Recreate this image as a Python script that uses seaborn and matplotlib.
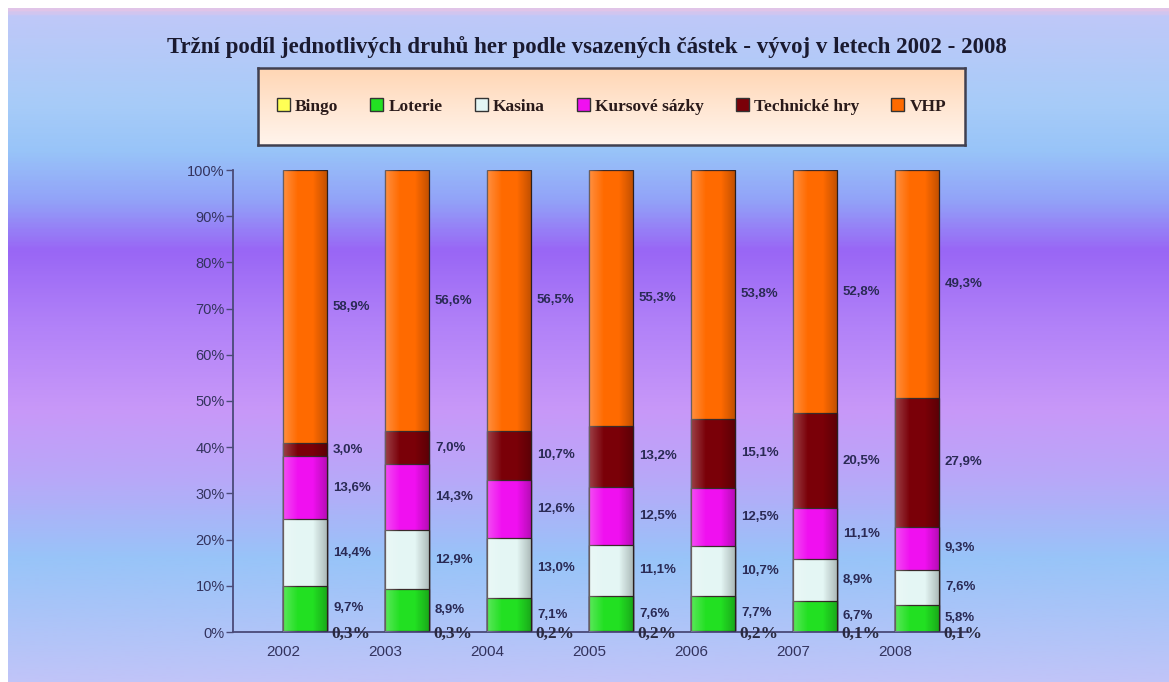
import numpy as np
import pandas as pd
import matplotlib
matplotlib.use("Agg")
import matplotlib.pyplot as plt
import seaborn as sns
from matplotlib.patches import Patch
from matplotlib.colors import LinearSegmentedColormap
import matplotlib.transforms as mtransforms

# ---------------- data ----------------
years = ["2002", "2003", "2004", "2005", "2006", "2007", "2008"]
series_names = ["Bingo", "Loterie", "Kasina", "Kursové sázky", "Technické hry", "VHP"]
bingo = [0.3, 0.3, 0.2, 0.2, 0.2, 0.1, 0.1]
loterie = [9.7, 8.9, 7.1, 7.6, 7.7, 6.7, 5.8]
kasina = [14.4, 12.9, 13.0, 11.1, 10.7, 8.9, 7.6]
kursove = [13.6, 14.3, 12.6, 12.5, 12.5, 11.1, 9.3]
technicke = [3.0, 7.0, 10.7, 13.2, 15.1, 20.5, 27.9]
vhp = [58.9, 56.6, 56.5, 55.3, 53.8, 52.8, 49.3]
title = "Tržní podíl jednotlivých druhů her podle vsazených částek - vývoj v letech 2002 - 2008"

colors = ["#FFFF55", "#22E022", "#E4F6F4", "#F010F0", "#7A0008", "#FF6A00"]

values = [bingo, loterie, kasina, kursove, technicke, vhp]
df = pd.DataFrame({name: v for name, v in zip(series_names, values)}, index=years)
cum = df.cumsum(axis=1)

# ---------------- figure ----------------
sns.set_theme(style="white")
plt.rcParams["font.family"] = ["Liberation Sans", "DejaVu Sans"]

W, H = 1169, 682
fig = plt.figure(figsize=(W / 100, H / 100), dpi=100)
fig.patch.set_facecolor("white")

# background gradient
bg = fig.add_axes([8 / W, 0, 1 - 8 / W, 1 - 8 / H])
bg.set_axis_off()
stops_px = [8, 14, 100, 150, 200, 250, 320, 410, 480, 560, 682]
stops_col = ["#E0C4E8", "#BFC8F8", "#A8CCF8", "#98C4F8", "#92A2F8", "#9966F5",
             "#B080F8", "#C898F8", "#B8A8F8", "#98C4F8", "#C0C4F8"]
pos = [(p - 8) / (682 - 8) for p in stops_px]
cmap_bg = LinearSegmentedColormap.from_list("bg", list(zip(pos, stops_col)))
grad = np.linspace(0, 1, 400).reshape(-1, 1)
bg.imshow(grad, aspect="auto", cmap=cmap_bg, extent=[0, 1, 1, 0])
bg.set_xlim(0, 1)
bg.set_ylim(1, 0)

# main axes
ax = fig.add_axes([233 / W, 50 / H, 735 / W, 462 / H])
ax.patch.set_alpha(0)

bar_w = 0.44
order = series_names[::-1]
for name, col in zip(order, colors[::-1]):
    sns.barplot(x=years, y=cum[name].values, order=years, color=col,
                width=bar_w, saturation=1, edgecolor="#3A2A2A", linewidth=0.9,
                ax=ax, zorder=2)

# cylinder-like shading over each full bar (derived from the tallest patches)
shade = LinearSegmentedColormap.from_list(
    "shade", [(1, 1, 1, 0.25), (1, 1, 1, 0.0), (0, 0, 0, 0.0), (0, 0, 0, 0.25)])
top_patches = ax.patches[:len(years)]
for p in top_patches:
    x0, y0 = p.get_x(), p.get_y()
    w, h = p.get_width(), p.get_height()
    im = ax.imshow(np.linspace(0, 1, 50).reshape(1, -1), cmap=shade,
                   extent=[x0, x0 + w, y0, y0 + h], aspect="auto", zorder=3)
    im.set_clip_path(p)

ax.set_xlim(-0.706, 6.5)
ax.set_ylim(0, 100)
ax.set_xlabel("")
ax.set_ylabel("")

# value labels
label_col = "#2A2A55"
for j, name in enumerate(series_names):
    for i, yr in enumerate(years):
        v = df.loc[yr, name]
        txt = f"{v:.1f}".replace(".", ",") + "%"
        if name == "Bingo":
            ax.annotate(txt, xy=(i + bar_w / 2, 0), xytext=(3, -1),
                        textcoords="offset points", ha="left", va="center",
                        fontsize=12.5, fontweight="bold", color="#2A2A40",
                        family=["Liberation Serif", "DejaVu Serif"], zorder=5)
        else:
            ymid = cum.loc[yr, name] - v / 2
            ax.annotate(txt, xy=(i + bar_w / 2, ymid), xytext=(4, 0),
                        textcoords="offset points", ha="left", va="center",
                        fontsize=9.5, fontweight="bold", color=label_col, zorder=5)

# axes styling
ax.set_yticks(np.arange(0, 101, 10))
ax.set_yticklabels([f"{t}%" for t in range(0, 101, 10)])
for s in ["top", "right"]:
    ax.spines[s].set_visible(False)
for s in ["left", "bottom"]:
    ax.spines[s].set_color("#4A4A78")
    ax.spines[s].set_linewidth(1.3)
ax.tick_params(axis="y", direction="out", length=5, width=1, color="#4A4A78",
               labelsize=10.5, labelcolor="#33335E", pad=1, left=True)
ax.tick_params(axis="x", length=0, labelsize=11, labelcolor="#33335E", pad=9)
offset = mtransforms.ScaledTranslation(-22 / 100, 0, fig.dpi_scale_trans)
for lab in ax.get_xticklabels():
    lab.set_transform(lab.get_transform() + offset)

# title
fig.text(0.5 * (163 + 1010) / W, 1 - 47 / H, title, ha="center", va="center",
         fontsize=16.5, fontweight="bold", color="#1A1A30",
         family=["Liberation Serif", "DejaVu Serif"])

# legend box with peach gradient and dark border
lx0, ly0, lx1, ly1 = 258, 68, 965, 145
lrect = [lx0 / W, 1 - ly1 / H, (lx1 - lx0) / W, (ly1 - ly0) / H]
lbg = fig.add_axes(lrect)
lbg.set_xticks([])
lbg.set_yticks([])
for s in lbg.spines.values():
    s.set_visible(True)
    s.set_color("#404050")
    s.set_linewidth(1.8)
peach = LinearSegmentedColormap.from_list("peach", ["#FFD6B4", "#FFE6D2", "#FFF4EC"])
lbg.imshow(np.linspace(0, 1, 100).reshape(-1, 1), aspect="auto", cmap=peach,
           extent=[0, 1, 0, 1])
handles = [Patch(facecolor=c, edgecolor="#333333", linewidth=1) for c in colors]
inner = [(lx0 + 10) / W, 1 - ly1 / H, (lx1 - lx0 - 20) / W, (ly1 - ly0) / H]
leg = fig.legend(handles, series_names, loc="center", bbox_to_anchor=inner,
                 mode="expand", ncol=6, frameon=False, handlelength=0.75,
                 handleheight=0.75, handletextpad=0.3, borderaxespad=0,
                 borderpad=0.5,
                 prop={"family": ["Liberation Serif", "DejaVu Serif"],
                       "weight": "bold", "size": 12.5})
for t in leg.get_texts():
    t.set_color("#2A1A1A")

fig.savefig("out.png", dpi=100, facecolor=fig.get_facecolor())
